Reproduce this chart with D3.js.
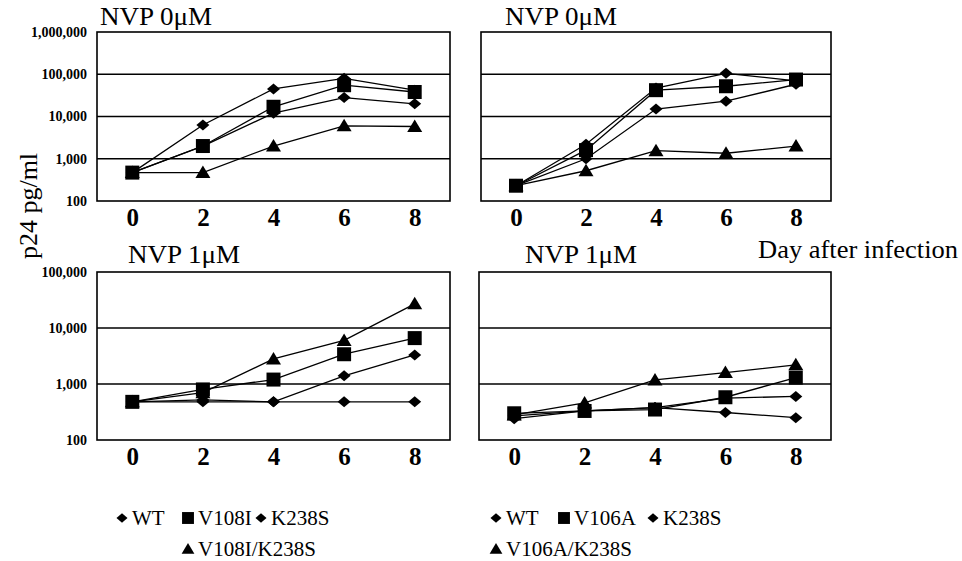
<!DOCTYPE html>
<html>
<head>
<meta charset="utf-8">
<script src="https://cdn.jsdelivr.net/npm/d3@7"></script>
<style>
    body { margin: 0; background: #fff; }
    text { font-family: "Liberation Serif", "Times New Roman", serif; fill: #000; }
</style>
</head>
<body>
<div id="chart"></div>
<script>
var days = [0, 2, 4, 6, 8];
var leftNames = ["WT", "V108I", "K238S", "V108I/K238S"];
var rightNames = ["WT", "V106A", "K238S", "V106A/K238S"];
var shapes = ["diamond", "square", "diamond", "triangle"];
var ticksNvp0 = [100, 1000, 10000, 100000, 1000000];
var ticksNvp1 = [100, 1000, 10000, 100000];

// NVP 0uM, left (V108I set)
var l0WT = [470, 6300, 45000, 80000, 42000];
var l0V108I = [470, 2000, 17000, 55000, 38000];
var l0K238S = [470, 2000, 12000, 28000, 20000];
var l0Double = [470, 470, 2000, 6000, 5800];

// NVP 0uM, right (V106A set)
var r0WT = [230, 2200, 47000, 105000, 70000];
var r0V106A = [230, 1600, 42000, 52000, 75000];
var r0K238S = [230, 1000, 15000, 23000, 58000];
var r0Double = [230, 520, 1550, 1350, 2000];

// NVP 1uM, left
var l1WT = [480, 480, 480, 480, 480];
var l1V108I = [480, 800, 1200, 3400, 6600];
var l1K238S = [480, 520, 480, 1400, 3300];
var l1Double = [480, 700, 2800, 6000, 27000];

// NVP 1uM, right
var r1WT = [240, 330, 380, 310, 250];
var r1V106A = [300, 330, 350, 580, 1300];
var r1K238S = [270, 330, 380, 560, 600];
var r1Double = [280, 460, 1180, 1600, 2200];

var width = 962;
var height = 561;

var svg = d3.select("#chart")
    .append("svg")
    .attr("width", width)
    .attr("height", height);

// marker shapes
var markerPath = {
    diamond: "M0,-5.5L6.5,0L0,5.5L-6.5,0Z",
    square: "M-7,-7H7V7H-7Z",
    triangle: "M0,-7L7.5,5.5L-7.5,5.5Z"
};

var panels = [
    { left: 97, right: 450, top: 32, bottom: 201, ticks: ticksNvp0, yLabels: true,
      title: "NVP 0\u03bcM", titleX: 100, titleY: 25, data: [l0WT, l0V108I, l0K238S, l0Double] },
    { left: 481, right: 831, top: 32, bottom: 201, ticks: ticksNvp0, yLabels: false,
      title: "NVP 0\u03bcM", titleX: 505, titleY: 25, data: [r0WT, r0V106A, r0K238S, r0Double] },
    { left: 97, right: 450, top: 272, bottom: 440, ticks: ticksNvp1, yLabels: true,
      title: "NVP 1\u03bcM", titleX: 128, titleY: 263, data: [l1WT, l1V108I, l1K238S, l1Double] },
    { left: 479, right: 831, top: 272, bottom: 440, ticks: ticksNvp1, yLabels: false,
      title: "NVP 1\u03bcM", titleX: 525, titleY: 263, data: [r1WT, r1V106A, r1K238S, r1Double] }
];

panels.forEach(function (p) {
    var x = d3.scalePoint()
        .domain(days)
        .range([p.left, p.right])
        .padding(0.5);

    var y = d3.scaleLog()
        .domain([p.ticks[0], p.ticks[p.ticks.length - 1]])
        .range([p.bottom, p.top]);

    var g = svg.append("g");

    // gridlines
    g.selectAll(".grid")
        .data(p.ticks.slice(1, -1))
        .enter().append("line")
        .attr("x1", p.left)
        .attr("x2", p.right)
        .attr("y1", function (d) { return y(d); })
        .attr("y2", function (d) { return y(d); })
        .attr("stroke", "#000")
        .attr("stroke-width", 1.4);

    g.append("rect")
        .attr("x", p.left)
        .attr("y", p.top)
        .attr("width", p.right - p.left)
        .attr("height", p.bottom - p.top)
        .attr("fill", "none")
        .attr("stroke", "#000")
        .attr("stroke-width", 1.6);

    var xAxis = g.append("g")
        .attr("transform", "translate(0," + p.bottom + ")")
        .call(d3.axisBottom(x).tickSize(0).tickPadding(7));
    xAxis.select(".domain").remove();
    xAxis.selectAll("text")
        .style("font-family", "'Liberation Serif', serif")
        .style("font-size", "25px")
        .style("font-weight", "bold");

    if (p.yLabels) {
        var yAxis = g.append("g")
            .attr("transform", "translate(" + (p.left - 10) + ",0)")
            .call(d3.axisLeft(y).tickValues(p.ticks).tickFormat(d3.format(",")).tickSize(0).tickPadding(0));
        yAxis.select(".domain").remove();
        yAxis.selectAll("text")
            .style("font-family", "'Liberation Serif', serif")
            .style("font-size", "14px")
            .style("font-weight", "bold");
    }

    // draw the double mutant first so the other markers sit on top
    var order = [3, 2, 1, 0];
    var line = d3.line()
        .x(function (d, i) { return x(days[i]); })
        .y(function (d) { return y(d); });

    order.forEach(function (k) {
        g.append("path")
            .datum(p.data[k])
            .attr("d", line)
            .attr("fill", "none")
            .attr("stroke", "#000")
            .attr("stroke-width", 1.3);
    });
    order.forEach(function (k) {
        g.selectAll(".pt" + k)
            .data(p.data[k])
            .enter().append("path")
            .attr("d", markerPath[shapes[k]])
            .attr("transform", function (d, i) { return "translate(" + x(days[i]) + "," + y(d) + ")"; })
            .attr("fill", "#000");
    });

    svg.append("text")
        .attr("x", p.titleX)
        .attr("y", p.titleY)
        .attr("textLength", 112)
        .attr("lengthAdjust", "spacingAndGlyphs")
        .style("font-size", "25px")
        .text(p.title);
});

svg.append("text")
    .attr("transform", "translate(37,206) rotate(-90)")
    .attr("text-anchor", "middle")
    .style("font-size", "26px")
    .text("p24 pg/ml");

svg.append("text")
    .attr("x", 758)
    .attr("y", 258)
    .attr("textLength", 200)
    .attr("lengthAdjust", "spacingAndGlyphs")
    .style("font-size", "25px")
    .text("Day after infection");

// legends
var legends = [
    { names: leftNames, pos: [[122, 518], [188, 518], [261, 518], [188, 549]] },
    { names: rightNames, pos: [[496, 518], [564, 518], [653, 518], [496, 549]] }
];

legends.forEach(function (l) {
    var items = svg.selectAll(null)
        .data(l.names)
        .enter().append("g")
        .attr("transform", function (d, i) { return "translate(" + l.pos[i][0] + "," + l.pos[i][1] + ")"; });

    items.append("path")
        .attr("d", function (d, i) { return markerPath[shapes[i]]; })
        .attr("transform", "scale(0.85)")
        .attr("fill", "#000");

    items.append("text")
        .attr("x", 10)
        .attr("y", 7)
        .style("font-size", "21px")
        .text(function (d) { return d; });
});
</script>
</body>
</html>
